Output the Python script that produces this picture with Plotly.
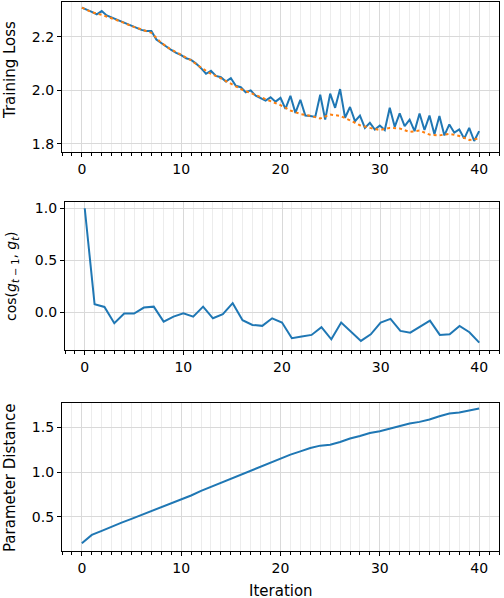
import plotly.graph_objects as go

# ---- data ----
loss_x = [i * 0.5 for i in range(81)]
loss_raw = [2.309, 2.302, 2.293, 2.284, 2.296, 2.280, 2.272, 2.265, 2.259, 2.250,
            2.240, 2.232, 2.226, 2.222, 2.222, 2.190, 2.176, 2.163, 2.151, 2.140,
            2.132, 2.120, 2.114, 2.100, 2.083, 2.062, 2.073, 2.054, 2.049, 2.033,
            2.046, 2.017, 2.012, 1.993, 2.000, 1.980, 1.972, 1.962, 1.974, 1.958,
            1.972, 1.931, 1.980, 1.916, 1.965, 1.906, 1.904, 1.901, 1.984, 1.891,
            1.988, 1.935, 2.005, 1.898, 1.938, 1.885, 1.906, 1.860, 1.879, 1.854,
            1.869, 1.852, 1.935, 1.864, 1.914, 1.867, 1.891, 1.848, 1.914, 1.852,
            1.906, 1.836, 1.904, 1.832, 1.873, 1.842, 1.854, 1.820, 1.860, 1.811,
            1.848]
iters = list(range(41))
loss_smooth = [2.309, 2.292, 2.282, 2.270, 2.256, 2.240, 2.227, 2.215, 2.177, 2.152,
               2.133, 2.112, 2.085, 2.062, 2.045, 2.025, 2.005, 1.990, 1.975, 1.962,
               1.945, 1.925, 1.912, 1.905, 1.895, 1.910, 1.905, 1.888, 1.870, 1.860,
               1.852, 1.860, 1.858, 1.845, 1.850, 1.835, 1.832, 1.838, 1.830, 1.815,
               1.820]
cos_sim = [1.0, 0.077, 0.051, -0.106, -0.013, -0.013, 0.045, 0.054, -0.090, -0.042,
           -0.010, -0.042, 0.054, -0.058, -0.019, 0.087, -0.077, -0.122, -0.131, -0.058,
           -0.099, -0.250, -0.234, -0.218, -0.144, -0.260, -0.099, -0.186, -0.276, -0.212,
           -0.099, -0.064, -0.179, -0.196, -0.141, -0.080, -0.218, -0.212, -0.131, -0.192,
           -0.292]
param_dist = [0.202, 0.296, 0.341, 0.390, 0.434, 0.476, 0.520, 0.566, 0.610, 0.648,
              0.700, 0.738, 0.790, 0.835, 0.880, 0.933, 0.978, 1.015, 1.064, 1.112,
              1.150, 1.195, 1.232, 1.270, 1.296, 1.307, 1.337, 1.375, 1.404, 1.438,
              1.457, 1.487, 1.513, 1.543, 1.562, 1.588, 1.625, 1.655, 1.667, 1.689,
              1.712]

W, H = 504, 598
BLUE = "#1f77b4"
ORANGE = "#ff7f0e"
FONT = "DejaVu Sans"

fig = go.Figure()
fig.add_trace(go.Scatter(x=loss_x, y=loss_raw, mode="lines",
                         line=dict(color=BLUE, width=2), xaxis="x", yaxis="y"))
fig.add_trace(go.Scatter(x=iters, y=loss_smooth, mode="lines",
                         line=dict(color=ORANGE, width=2, dash="dot"), xaxis="x", yaxis="y"))
fig.add_trace(go.Scatter(x=iters, y=cos_sim, mode="lines",
                         line=dict(color=BLUE, width=2), xaxis="x2", yaxis="y2"))
fig.add_trace(go.Scatter(x=iters, y=param_dist, mode="lines",
                         line=dict(color=BLUE, width=2), xaxis="x3", yaxis="y3"))


def px_x(p):
    return p / W


def px_y(p):
    return 1 - p / H


def xaxis(anchor, left):
    return dict(domain=[px_x(left), px_x(499)], anchor=anchor, range=[-2, 42],
                tick0=0, dtick=10, ticks="outside", ticklen=4, tickwidth=1,
                tickcolor="black", showline=True, linecolor="black", linewidth=1.2,
                mirror=True, showgrid=True, gridcolor="#d9d9d9", gridwidth=1.3,
                zeroline=False, tickfont=dict(family=FONT, size=14, color="black"),
                minor=dict(dtick=1, tick0=0, ticks="outside", ticklen=2.5,
                           tickcolor="black", showgrid=True, gridcolor="#ececec",
                           gridwidth=1),
                automargin=False)


def yaxis(anchor, top, bottom, rng, dtick, tick0):
    return dict(domain=[px_y(bottom), px_y(top)], anchor=anchor, range=rng,
                tick0=tick0, dtick=dtick, ticks="outside", ticklen=4, tickwidth=1,
                tickcolor="black", showline=True, linecolor="black", linewidth=1.2,
                mirror=True, showgrid=True, gridcolor="#d9d9d9", gridwidth=1.3,
                zeroline=False, tickformat=".1f",
                tickfont=dict(family=FONT, size=14, color="black"),
                automargin=False)


fig.update_layout(
    width=W, height=H, showlegend=False,
    margin=dict(l=0, r=0, t=0, b=0),
    paper_bgcolor="white", plot_bgcolor="white",
    xaxis=xaxis("y", 62),
    yaxis=yaxis("x", 2, 152, [1.77, 2.33], 0.2, 1.8),
    xaxis2=xaxis("y2", 65),
    yaxis2=yaxis("x2", 201.7, 350, [-0.363, 1.063], 0.5, 0.0),
    xaxis3=xaxis("y3", 62),
    yaxis3=yaxis("x3", 403.3, 551, [0.116, 1.77], 0.5, 0.5),
)

title_font = dict(family=FONT, size=15, color="black")
fig.add_annotation(text="Training Loss", x=px_x(10), y=px_y(70), xref="paper", yref="paper",
                   textangle=-90, showarrow=False, font=title_font,
                   xanchor="center", yanchor="middle")
fig.add_annotation(text="cos(<i>g</i><sub><i>t</i> − 1</sub>, <i>g</i><sub><i>t</i></sub>)",
                   x=px_x(12), y=px_y(276), xref="paper", yref="paper",
                   textangle=-90, showarrow=False, font=dict(family=FONT, size=14, color="black"),
                   xanchor="center", yanchor="middle")
fig.add_annotation(text="Parameter Distance", x=px_x(10), y=px_y(478), xref="paper", yref="paper",
                   textangle=-90, showarrow=False, font=title_font,
                   xanchor="center", yanchor="middle")
fig.add_annotation(text="Iteration", x=px_x(281), y=px_y(580), xref="paper", yref="paper",
                   showarrow=False, font=title_font, xanchor="center", yanchor="top")

fig.write_html("out.html", config={"displayModeBar": False},
               post_script="document.body.style.margin='0';document.body.style.overflow='hidden';")
